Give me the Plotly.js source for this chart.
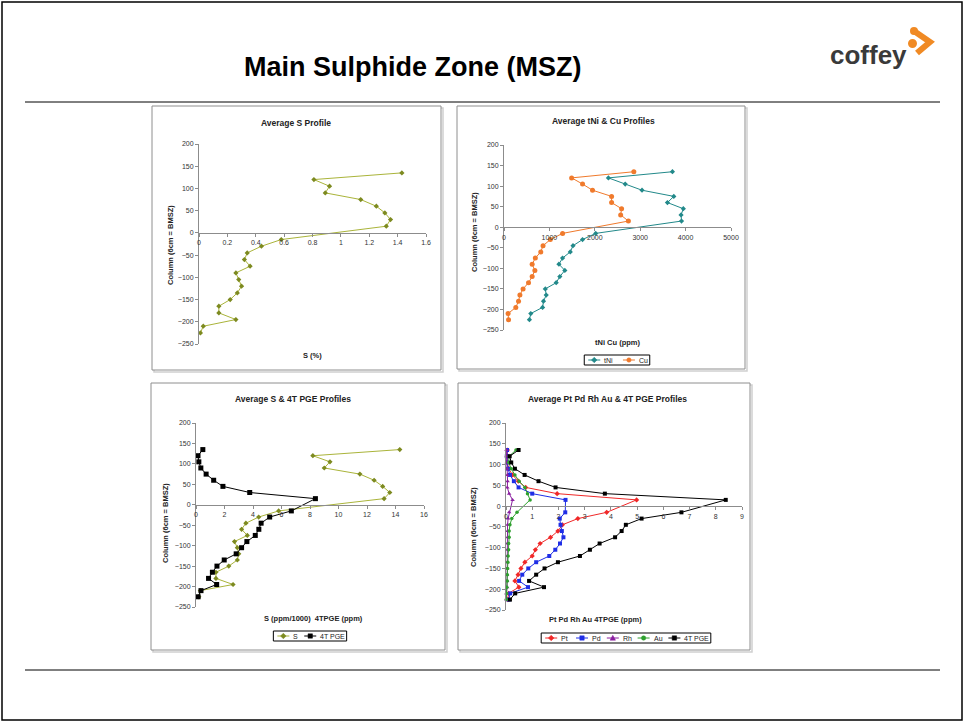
<!DOCTYPE html>
<html><head><meta charset="utf-8">
<script src="https://cdn.plot.ly/plotly-3.0.1.min.js"></script>
<style>html,body{margin:0;padding:0;background:#fff}#chart{width:965px;height:723px}</style>
</head><body><div id="chart"></div>
<script>
// ---- data ----
const depth = [135,120,105,90,75,60,45,30,15,-15,-30,-45,-60,-75,-90,-105,-120,-135,-150,-165,-180,-195,-210,-225];
const sPct = [1.43,0.81,0.92,0.89,1.14,1.25,1.31,1.35,1.32,0.58,0.44,0.34,0.32,0.36,0.26,0.28,0.30,0.27,0.22,0.14,0.14,0.26,0.03,0.01];
const tNi = [3710,2300,2670,3040,3740,3600,3950,3900,3910,2020,1730,1520,1460,1290,1210,1340,1230,1150,910,930,870,850,590,560];
const cu = [2860,1490,1730,1950,2370,2370,2590,2570,2740,1290,1020,860,810,690,620,680,620,540,420,350,320,260,90,100];
const sPpm1000 = [14.3,8.2,9.4,9.0,11.5,12.5,13.1,13.6,13.2,5.8,4.4,3.5,3.2,3.6,2.7,2.9,3.0,2.9,2.3,1.4,1.4,2.6,0.3,0.2];
const pge4T = [0.48,0.14,0.2,0.34,0.71,1.24,1.89,3.77,8.38,6.69,5.17,4.57,4.41,4.16,3.57,3.2,2.82,1.98,1.47,1.15,0.88,1.45,0.35,0.15];
const pt = [0.05,0.04,0.05,0.1,0.25,0.47,0.75,1.95,4.98,3.84,2.74,2.15,1.98,1.7,1.3,1.12,1.0,0.72,0.57,0.46,0.34,0.49,0.1,0.06];
const pd = [0.04,0.03,0.04,0.08,0.15,0.3,0.48,1.0,2.27,2.26,2.05,2.08,2.13,2.19,2.06,1.88,1.65,1.15,0.85,0.62,0.5,0.84,0.16,0.1];
const rh = [0.02,0.03,0.03,0.04,0.05,0.06,0.05,0.12,0.25,0.12,0.08,0.06,0.06,0.06,0.05,0.05,0.05,0.05,0.04,0.04,0.04,0.04,0.02,0.02];
const au = [0.38,0.12,0.1,0.2,0.34,0.5,0.72,0.82,0.92,0.42,0.22,0.15,0.12,0.12,0.1,0.1,0.08,0.07,0.06,0.05,0.05,0.03,0.02,0.01];
const yTicks = [-250,-200,-150,-100,-50,0,50,100,150,200];
const titles = ['Average S Profile','Average tNi & Cu Profiles','Average S & 4T PGE Profiles','Average Pt Pd Rh Au & 4T PGE Profiles'];
const xTitles = ['S (%)','tNi Cu (ppm)','S (ppm/1000)  4TPGE (ppm)','Pt Pd Rh Au 4TPGE (ppm)'];
const yTitle = 'Column (6cm = BMSZ)';
const slideTitle = 'Main Sulphide Zone (MSZ)';

// ---- layout helpers (page pixels -> paper) ----
const W = 965, H = 723;
const px = x => x / W;
const py = y => 1 - y / H;
const FONT = 'Liberation Sans, Arial, sans-serif';

// plot areas in page pixels: [left, top, right, bottom]
const areas = [[199,144,426,344],[504,145,731,330],[196,423,424,607],[506,423,742,610]];
const xRanges = [[0,1.6],[0,5000],[0,16],[0,9]];
const xD = [0.2,1000,2,1];

function axisPair(i) {
  const [l,t,r,b] = areas[i];
  const dom = [py(b), py(t)];
  const yr = [-250,200];
  const frac = (0 - yr[0]) / (yr[1] - yr[0]);
  const pos = dom[0] + frac * (dom[1] - dom[0]);
  const common = {showgrid:false, zeroline:false, showline:true, linecolor:'#8c8c8c', linewidth:1, color:'#333',
    ticks:'outside', ticklen:3, tickcolor:'#8c8c8c', tickfont:{family:FONT, size:7, color:'#333'}, fixedrange:true};
  const sfx = i === 0 ? '' : String(i+1);
  return {
    x: Object.assign({}, common, {domain:[px(l), px(r)], range:xRanges[i], dtick:xD[i], tick0:0,
      anchor:'free', position:pos}),
    y: Object.assign({}, common, {domain:dom, range:yr, tickvals:yTicks, anchor:'x'+sfx})
  };
}

const layout = {width:W, height:H, margin:{l:0,r:0,t:0,b:0}, paper_bgcolor:'#fff', plot_bgcolor:'rgba(0,0,0,0)',
  showlegend:false, shapes:[], annotations:[]};
for (let i=0;i<4;i++){
  const a = axisPair(i);
  const sfx = i === 0 ? '' : String(i+1);
  layout['xaxis'+sfx] = a.x;
  layout['yaxis'+sfx] = a.y;
  layout.shapes.push({type:'rect', xref:'x'+sfx+' domain', yref:'y'+sfx+' domain', x0:0,x1:1,y0:0,y1:1,
    line:{color:'#9a9a9a', width:1}, layer:'below'});
}

// chart frames (panels)
const frames = [[152,106,441,370],[457,106,745,369],[151,383,445,650],[458,383,750,650]];
frames.forEach(f => {
  layout.shapes.push({type:'rect', xref:'paper', yref:'paper', x0:px(f[0]+2), x1:px(f[2]+2), y0:py(f[3]+2), y1:py(f[1]+2),
    line:{color:'#d0d0d0', width:1.5}, layer:'below'});
  layout.shapes.push({type:'rect', xref:'paper', yref:'paper', x0:px(f[0]), x1:px(f[2]), y0:py(f[3]), y1:py(f[1]),
    line:{color:'#8e8e8e', width:1}, fillcolor:'#fff', layer:'below'});
});

// slide border and rules
layout.shapes.push({type:'rect', xref:'paper', yref:'paper', x0:px(2), x1:px(962), y0:py(720), y1:py(2), line:{color:'#000', width:1.5}});
layout.shapes.push({type:'line', xref:'paper', yref:'paper', x0:px(25), x1:px(940), y0:py(102), y1:py(102), line:{color:'#000', width:1}});
layout.shapes.push({type:'line', xref:'paper', yref:'paper', x0:px(25), x1:px(940), y0:py(670), y1:py(670), line:{color:'#000', width:1}});

// coffey logo mark (orange chevron)
const p = (x,y) => px(x).toFixed(5)+','+py(y).toFixed(5);
layout.shapes.push({type:'path', xref:'paper', yref:'paper', path:'M'+p(914,31)+' L'+p(930,42)+' L'+p(917,53),
  line:{color:'#f08a24', width:6}});
layout.shapes.push({type:'circle', xref:'paper', yref:'paper', x0:px(908), x1:px(917), y0:py(48), y1:py(39),
  fillcolor:'#f08a24', line:{width:0}});
layout.shapes.push({type:'circle', xref:'paper', yref:'paper', x0:px(910), x1:px(918), y0:py(35), y1:py(27),
  fillcolor:'#f08a24', line:{width:0}});

// texts
const ann = (x,y,text,opts) => Object.assign({xref:'paper', yref:'paper', x:px(x), y:py(y), text:text, showarrow:false,
  xanchor:'center', yanchor:'middle', font:{family:FONT, size:7, color:'#222'}}, opts||{});
layout.annotations.push(ann(412,67,'<b>'+slideTitle+'</b>',{font:{family:FONT, size:27, color:'#000'}}));
layout.annotations.push(ann(868,55,'<b>coffey</b>',{font:{family:FONT, size:26, color:'#3a3a3a'}}));
const titlePos = [[296,123],[603,121],[293,399],[607,399]];
const xtPos = [[312,355],[617,342],[313,618],[595,619]];
const ytPos = [[170,245],[475,232],[165,523],[473,527]];
for (let i=0;i<4;i++){
  layout.annotations.push(ann(titlePos[i][0], titlePos[i][1], '<b>'+titles[i]+'</b>', {font:{family:FONT, size:8.5, color:'#222'}}));
  layout.annotations.push(ann(xtPos[i][0], xtPos[i][1], '<b>'+xTitles[i]+'</b>', {font:{family:FONT, size:7.5, color:'#222'}}));
  layout.annotations.push(ann(ytPos[i][0], ytPos[i][1], '<b>'+yTitle+'</b>', {textangle:-90, font:{family:FONT, size:7.5, color:'#222'}}));
}

// series styles
const sLine = '#aab43a', sMark = '#7d8a20';
const styles = {
  S:{color:sLine, mcolor:sMark, symbol:'diamond'},
  tNi:{color:'#22898a', symbol:'diamond'},
  Cu:{color:'#f07a2c', symbol:'circle'},
  PGE:{color:'#000', symbol:'square'},
  Pt:{color:'#f02828', symbol:'diamond'},
  Pd:{color:'#1f2ee6', symbol:'square'},
  Rh:{color:'#8a1fa0', symbol:'triangle-up'},
  Au:{color:'#2ea02e', symbol:'circle'}
};

// compact Excel-style legend boxes
function markerShape(sym, cx, cy, col) {
  const r = 2.2;
  const base = {xref:'paper', yref:'paper', fillcolor:col, line:{color:col, width:0.5}};
  if (sym === 'square') return Object.assign(base, {type:'rect', x0:px(cx-r), x1:px(cx+r), y0:py(cy+r), y1:py(cy-r)});
  if (sym === 'circle') return Object.assign(base, {type:'circle', x0:px(cx-r), x1:px(cx+r), y0:py(cy+r), y1:py(cy-r)});
  if (sym === 'diamond') return Object.assign(base, {type:'path', path:'M'+p(cx,cy-r-0.6)+' L'+p(cx+r+0.6,cy)+' L'+p(cx,cy+r+0.6)+' L'+p(cx-r-0.6,cy)+' Z'});
  return Object.assign(base, {type:'path', path:'M'+p(cx,cy-r-0.5)+' L'+p(cx+r+0.5,cy+r)+' L'+p(cx-r-0.5,cy+r)+' Z'});
}
function legendBox(cx, cy, items) {
  const tw = s => s.length * 3.9;
  const widths = items.map(it => 15 + tw(it.name));
  const gap = 8;
  const total = widths.reduce((a,b)=>a+b,0) + gap*(items.length-1) + 8;
  const left = cx - total/2;
  layout.shapes.push({type:'rect', xref:'paper', yref:'paper', x0:px(left), x1:px(left+total), y0:py(cy+5), y1:py(cy-5),
    line:{color:'#000', width:1}, fillcolor:'#fff'});
  let x = left + 4;
  items.forEach((it,k) => {
    const st = styles[it.key];
    layout.shapes.push({type:'line', xref:'paper', yref:'paper', x0:px(x), x1:px(x+12), y0:py(cy), y1:py(cy), line:{color:st.color, width:1}});
    layout.shapes.push(markerShape(st.symbol, x+6, cy, st.mcolor||st.color));
    layout.annotations.push(ann(x+14, cy, it.name, {xanchor:'left', font:{family:FONT, size:7, color:'#222'}}));
    x += widths[k] + gap;
  });
}
legendBox(617, 360, [{name:'tNi', key:'tNi'},{name:'Cu', key:'Cu'}]);
legendBox(310, 636, [{name:'S', key:'S'},{name:'4T PGE', key:'PGE'}]);
legendBox(626, 638, [{name:'Pt', key:'Pt'},{name:'Pd', key:'Pd'},{name:'Rh', key:'Rh'},{name:'Au', key:'Au'},{name:'4T PGE', key:'PGE'}]);

// traces
function tr(x, name, ax, key, size) {
  const st = styles[key];
  return {type:'scatter', mode:'lines+markers', x:x, y:depth, name:name, xaxis:'x'+ax, yaxis:'y'+ax,
    line:{color:st.color, width:1}, marker:{color:st.mcolor||st.color, symbol:st.symbol, size:size||4},
    showlegend:false, cliponaxis:false};
}
const data = [
  tr(sPct, 'S', '', 'S', 4),
  tr(tNi, 'tNi', '2', 'tNi', 4),
  tr(cu, 'Cu', '2', 'Cu', 5),
  tr(sPpm1000, 'S', '3', 'S', 4),
  tr(pge4T, '4T PGE', '3', 'PGE', 5),
  tr(pt, 'Pt', '4', 'Pt', 4),
  tr(pd, 'Pd', '4', 'Pd', 4),
  tr(rh, 'Rh', '4', 'Rh', 4),
  tr(au, 'Au', '4', 'Au', 3.5),
  tr(pge4T, '4T PGE', '4', 'PGE', 4)
];
Plotly.newPlot('chart', data, layout, {staticPlot:true, displayModeBar:false});
</script></body></html>
